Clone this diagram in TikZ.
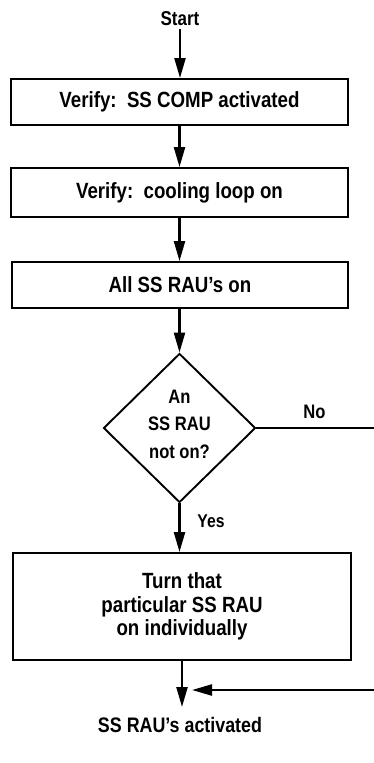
\documentclass[tikz,border=0pt]{standalone}
\usepackage{fontspec}
\setmainfont[FakeStretch=0.85]{Liberation Sans}
\usetikzlibrary{arrows.meta,shapes.geometric}
\begin{document}
\begin{tikzpicture}[x=1pt,y=-1pt,
  box/.style={draw,line width=1.9pt,inner sep=0pt,font=\bfseries\fontsize{22}{23.5}\selectfont,align=center},
  decision/.style={draw,shape=diamond,line width=1.9pt,inner sep=0pt,minimum width=152pt,minimum height=149pt},
  lbl/.style={font=\bfseries\fontsize{19.5}{27.5}\selectfont,align=center,inner sep=0pt},
  arr/.style={line width=2.3pt,-{Triangle[length=20pt,width=11pt]}},
  ln/.style={line width=2pt}]
\useasboundingbox (0,0) rectangle (374,763);
\fill[white] (0,0) rectangle (374,763);

\node[lbl,inner sep=3pt,font=\bfseries\fontsize{20}{22}\selectfont] (start) at (180,19) {Start};
\node[box,minimum width=337pt,minimum height=46pt] (b1) at (179.5,102) {Verify:\ \ SS COMP activated};
\node[box,minimum width=337pt,minimum height=49pt] (b2) at (179.5,192.5) {Verify:\ \ cooling loop on};
\node[box,minimum width=336pt,minimum height=46pt] (b3) at (180,285) {All SS RAU’s on};
\node[decision] (d) at (179.5,428) {};
\node[lbl] (dq) at (179.5,424) {An\\SS RAU\\not on?};
\node[lbl] (no) at (314.5,411.5) {No};
\node[lbl,font=\bfseries\fontsize{18.5}{22}\selectfont] (yes) at (211,521) {Yes};
\node[box,minimum width=338pt,minimum height=107pt] (b4) at (182,606.5) {Turn that\\particular SS RAU\\on individually};
\node[lbl,font=\bfseries\fontsize{21}{24}\selectfont] (end) at (180,725) {SS RAU’s activated};

\coordinate (e1) at (374,428);
\coordinate (e2) at (374,690);
\coordinate (m2) at (192,690);
\coordinate (m1) at (182,707);

\draw[arr] (start.south) -- (start.south |- b1.north);
\draw[arr] (b1.south) -- (b1.south |- b2.north);
\draw[arr] (b2.south) -- (b2.south |- b3.north);
\draw[arr] (d.north |- b3.south) -- (d.north);
\draw[arr] (d.south) -- (d.south |- b4.north);
\draw[ln] (d.east) -- (e1);
\draw[arr] (b4.south) -- (m1);
\draw[arr] (e2) -- (m2);
\end{tikzpicture}
\end{document}
